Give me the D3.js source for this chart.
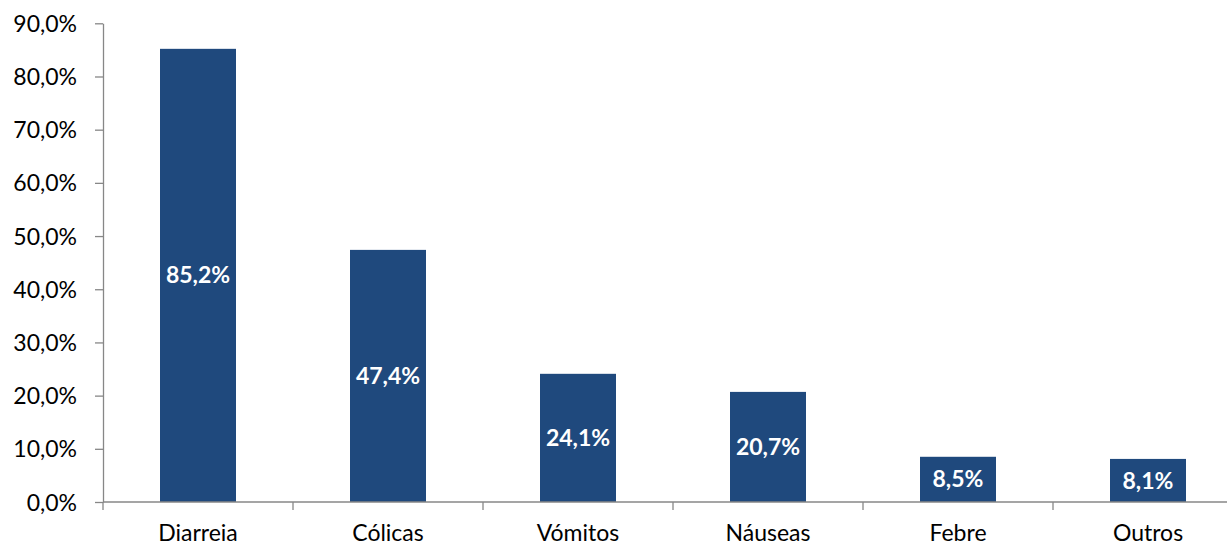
<!DOCTYPE html>
<html>
<head>
<meta charset="utf-8">
<script src="https://cdn.jsdelivr.net/npm/d3@7"></script>
<style>
  html, body { margin: 0; padding: 0; background: #fff; }
  svg { display: block; font-family: Lato, "Open Sans", sans-serif; }
</style>
</head>
<body>
<svg id="chart" width="1227" height="548"></svg>
<script>
// Symptom categories and their share of cases (%)
const categories = ["Diarreia", "Cólicas", "Vómitos", "Náuseas", "Febre", "Outros"];
const values = [85.2, 47.4, 24.1, 20.7, 8.5, 8.1];
const yTicks = [0, 10, 20, 30, 40, 50, 60, 70, 80, 90];

const fmt = v => d3.format(".1f")(v).replace(".", ",") + "%";

const svg = d3.select("#chart");
const plotLeft = 103, plotTop = 23.3, plotBottom = 502, band = 190;
const plotRight = plotLeft + band * categories.length;

const x = d3.scaleBand().domain(categories).range([plotLeft, plotRight]).paddingInner(0.6).paddingOuter(0.3);
const y = d3.scaleLinear().domain([0, 90]).range([plotBottom, plotTop]);

const axisColor = "#878787";

// Y axis
const yAxis = svg.append("g")
  .attr("transform", `translate(${plotLeft},0)`)
  .call(d3.axisLeft(y).tickValues(yTicks).tickFormat(fmt).tickSize(8).tickSizeOuter(0));
yAxis.select(".domain").attr("stroke", axisColor).attr("stroke-width", 1.3);
yAxis.selectAll(".tick line").attr("stroke", axisColor).attr("stroke-width", 1.3);
yAxis.selectAll(".tick text")
  .attr("x", -26).attr("dy", "0.35em")
  .attr("fill", "#000").style("font-size", "23px").style("font-family", "Lato, sans-serif");

// Bars
svg.append("g").selectAll("rect")
  .data(categories)
  .join("rect")
  .attr("x", d => x(d))
  .attr("width", x.bandwidth())
  .attr("y", (d, i) => y(values[i]))
  .attr("height", (d, i) => y(0) - y(values[i]))
  .attr("fill", "#1F497D");

// X axis with ticks on category boundaries
const xg = svg.append("g");
xg.append("line")
  .attr("x1", plotLeft).attr("x2", plotRight)
  .attr("y1", plotBottom).attr("y2", plotBottom)
  .attr("stroke", axisColor).attr("stroke-width", 1.3);
xg.selectAll("line.tk")
  .data(d3.range(categories.length + 1))
  .join("line")
  .attr("class", "tk")
  .attr("x1", i => plotLeft + i * band).attr("x2", i => plotLeft + i * band)
  .attr("y1", plotBottom).attr("y2", plotBottom + 8)
  .attr("stroke", axisColor).attr("stroke-width", 1.3);
xg.selectAll("text")
  .data(categories)
  .join("text")
  .attr("x", d => x(d) + x.bandwidth() / 2)
  .attr("y", 541)
  .attr("text-anchor", "middle")
  .style("font-size", "23px")
  .attr("fill", "#000")
  .text(d => d);

// Value labels centred in each bar
svg.append("g").selectAll("text")
  .data(categories)
  .join("text")
  .attr("x", d => x(d) + x.bandwidth() / 2)
  .attr("y", (d, i) => (y(values[i]) + y(0)) / 2)
  .attr("dy", "0.35em")
  .attr("text-anchor", "middle")
  .style("font-size", "23px")
  .style("font-weight", "bold")
  .attr("fill", "#fff")
  .text((d, i) => fmt(values[i]));
</script>
</body>
</html>
